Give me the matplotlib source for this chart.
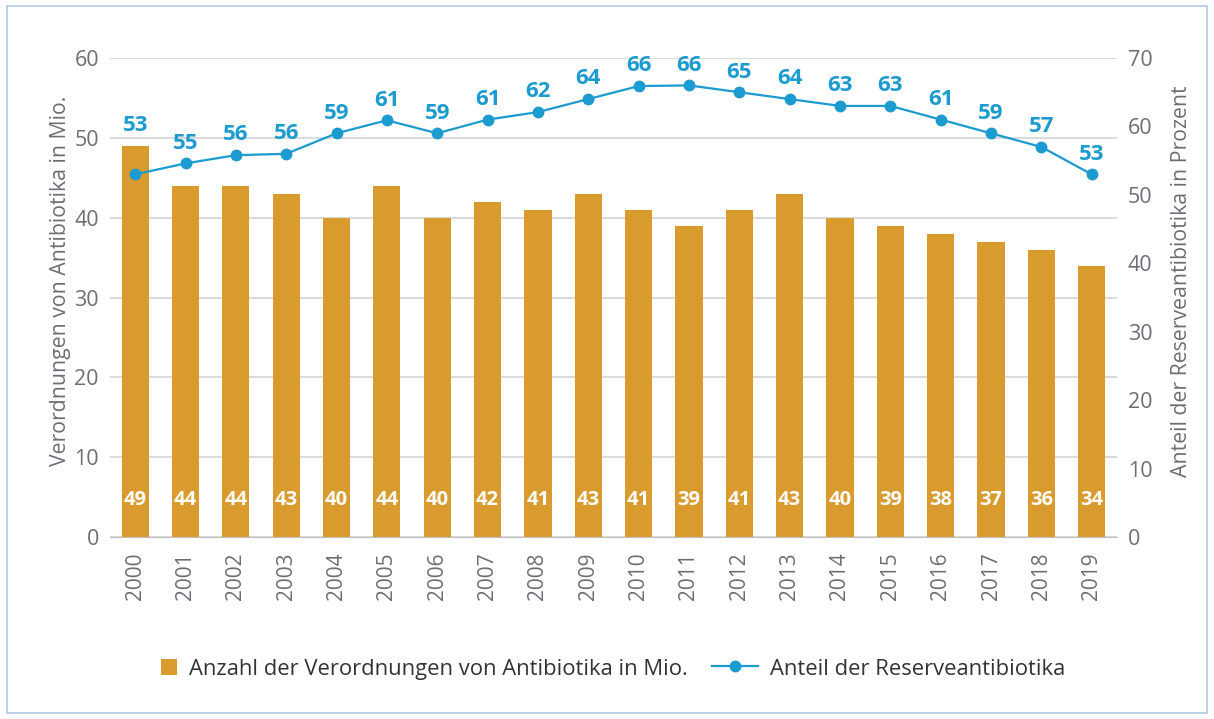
import numpy as np
import matplotlib
matplotlib.use("Agg")
import matplotlib.pyplot as plt
from matplotlib.patches import Rectangle
from matplotlib.legend_handler import HandlerPatch

# Daten
jahre = [str(j) for j in range(2000, 2020)]
verordnungen = [49, 44, 44, 43, 40, 44, 40, 42, 41, 43, 41, 39, 41, 43, 40, 39, 38, 37, 36, 34]
reserve_anteil = [53.0, 54.6, 55.8, 56.0, 59.0, 60.9, 59.0, 61.0, 62.1, 64.0,
                  65.9, 66.0, 65.0, 64.0, 63.0, 63.0, 61.0, 59.0, 57.0, 53.0]

farbe_balken = "#D99B2E"
farbe_linie = "#1C9BD0"
farbe_text = "#6B6E73"

plt.rcParams["font.family"] = ["Open Sans", "DejaVu Sans"]

fig = plt.figure(figsize=(12.14, 7.19), dpi=100)
ax = fig.add_axes([0.0906, 0.2531, 0.8294, 0.6662])
ax2 = ax.twinx()

x = np.arange(len(jahre))
balken = ax.bar(x, verordnungen, width=0.54, color=farbe_balken, zorder=2)
for xi, v in zip(x, verordnungen):
    ax.text(xi, 4.6, f"{v}", ha="center", va="center", color="white",
            fontsize=14.5, fontweight="bold", zorder=3)

linie, = ax2.plot(x, reserve_anteil, color=farbe_linie, lw=1.6, marker="o", ms=7.5, zorder=4)

# Beschriftung über dem Punkt, bzw. über dem Balken falls dieser höher ist
faktor = 70 / 60
for xi, v, b in zip(x, reserve_anteil, verordnungen):
    y_lab = max(v, b * faktor)
    ax2.annotate(f"{round(v)}", (xi, y_lab), xytext=(0, 7), textcoords="offset points",
                 ha="center", va="bottom", color=farbe_linie, fontsize=16,
                 fontweight="bold", zorder=5)

ax.set_xlim(-0.5, len(jahre) - 0.5)
ax.set_ylim(0, 60)
ax2.set_ylim(0, 70)
ax.set_yticks(range(0, 61, 10))
ax2.set_yticks(range(0, 71, 10))
ax.set_xticks(x)
ax.set_xticklabels(jahre, rotation=90)

ax.yaxis.grid(True, color="#D4D4D4", lw=1.2, zorder=0)
ax.set_axisbelow(True)
for a in (ax, ax2):
    for s in a.spines.values():
        s.set_visible(False)
    a.tick_params(length=0, colors=farbe_text, labelsize=15.5)
ax.spines["bottom"].set_visible(True)
ax.spines["bottom"].set_color("#BFBFBF")
ax.tick_params(axis="x", pad=11, labelsize=15)
ax.tick_params(axis="y", pad=8)
ax2.tick_params(axis="y", pad=8)

ax.set_ylabel("Verordnungen von Antibiotika in Mio.", color=farbe_text, fontsize=15.3, labelpad=2)
ax2.set_ylabel("Anteil der Reserveantibiotika in Prozent", color=farbe_text, fontsize=15.3, labelpad=13)
ax.yaxis.label.set_y(0.535)
ax2.yaxis.label.set_y(0.535)


# quadratisches Legendensymbol, rechtsbündig im Handle-Feld
def quadrat(legend, orig_handle, xdescent, ydescent, width, height, fontsize):
    s = height * 0.8
    return Rectangle((-xdescent + width - s, -ydescent + (height - s) / 2), s, s)


fig.legend([balken.patches[0], linie],
           ["Anzahl der Verordnungen von Antibiotika in Mio.", "Anteil der Reserveantibiotika"],
           loc="center", bbox_to_anchor=(0.4925, 0.07), ncol=2,
           frameon=False, fontsize=15.8, handlelength=2.1, handleheight=1.0,
           handletextpad=0.55, columnspacing=1.1, labelcolor="#333333",
           handler_map={Rectangle: HandlerPatch(patch_func=quadrat)})

fig.patches.append(Rectangle((0.006, 0.008), 0.988, 0.983, transform=fig.transFigure,
                             fill=False, edgecolor="#B4C7E7", lw=1.2))

fig.savefig("out.png", dpi=100)
